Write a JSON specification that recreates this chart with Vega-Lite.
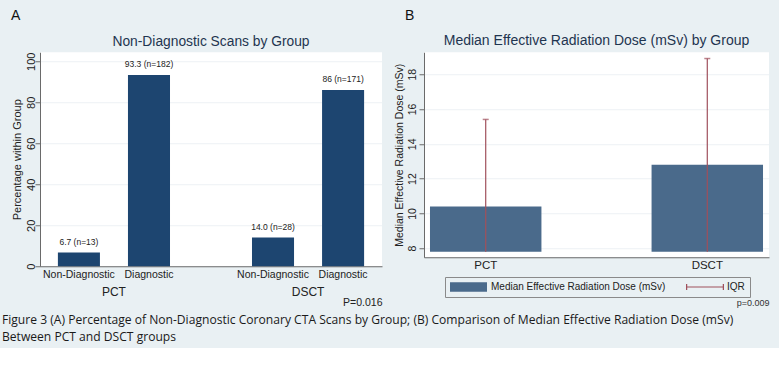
{
  "$schema": "https://vega.github.io/schema/vega-lite/v6.json",
  "background": "#E9F0F3",
  "padding": {"left": 2, "top": 9, "right": 10, "bottom": 5},
  "title": {
    "text": ["Figure 3 (A) Percentage of Non-Diagnostic Coronary CTA Scans by Group; (B) Comparison of Median Effective Radiation Dose (mSv)", "Between PCT and DSCT groups"],
    "orient": "bottom", "anchor": "start", "font": "Open Sans", "fontSize": 12.1, "fontWeight": "normal",
    "color": "#1a1a1a", "lineHeight": 17, "offset": 6, "dx": -9
  },
  "spacing": 12,
  "center": true,
  "hconcat": [
    {
      "title": {"text": "A", "anchor": "start", "fontSize": 14, "fontWeight": "normal", "color": "#111", "offset": 12},
      "vconcat": [
        {
          "width": 342, "height": 214,
          "title": {"text": "Non-Diagnostic Scans by Group", "fontSize": 13.8, "fontWeight": "normal", "color": "#1F3550", "anchor": "middle", "offset": 3},
          "data": {"values": [
            {"group": "PCT", "category": "Non-Diagnostic", "pct": 6.7, "label": "6.7 (n=13)"},
            {"group": "PCT", "category": "Diagnostic", "pct": 93.3, "label": "93.3 (n=182)"},
            {"group": "DSCT", "category": "Non-Diagnostic", "pct": 14.0, "label": "14.0 (n=28)"},
            {"group": "DSCT", "category": "Diagnostic", "pct": 86, "label": "86 (n=171)"}
          ]},
          "encoding": {
            "x": {"field": "group", "type": "nominal", "sort": ["PCT", "DSCT"],
              "scale": {"paddingInner": 0.278, "paddingOuter": 0.02},
              "axis": {"title": "P=0.016", "titleAnchor": "end", "titleFontSize": 10.5, "titlePadding": 0, "titleColor": "#222",
                "labelAngle": 0, "labelFontSize": 12, "labelPadding": 20, "ticks": false, "domainColor": "#6A6A6A"}},
            "xOffset": {"field": "category", "type": "nominal", "sort": ["Non-Diagnostic", "Diagnostic"],
              "scale": {"paddingInner": 0.4, "paddingOuter": 0.2}}
          },
          "layer": [
            {"mark": {"type": "bar", "color": "#1D4570"},
             "encoding": {"y": {"field": "pct", "type": "quantitative", "scale": {"domain": [0, 104.4], "nice": false},
               "axis": {"title": "Percentage within Group", "titleFontSize": 11, "titlePadding": 3, "values": [0, 20, 40, 60, 80, 100],
                 "labelAngle": -90, "labelFontSize": 11, "labelPadding": -1, "tickSize": 5, "grid": true}}}},
            {"mark": {"type": "text", "dy": -6, "fontSize": 8.5, "color": "#222", "baseline": "bottom"},
             "encoding": {"y": {"field": "pct", "type": "quantitative"}, "text": {"field": "label"}}},
            {"mark": {"type": "text", "baseline": "top", "dy": 4, "fontSize": 10.5, "color": "#222"},
             "encoding": {"y": {"datum": 0}, "text": {"field": "category"}}}
          ]
        }
      ]
    },
    {
      "title": {"text": "B", "anchor": "start", "fontSize": 14, "fontWeight": "normal", "color": "#111", "offset": 11, "dx": 11},
      "vconcat": [
        {
          "width": 345, "height": 205,
          "title": {"text": "Median Effective Radiation Dose (mSv) by Group", "fontSize": 14, "fontWeight": "normal", "color": "#1F3550", "anchor": "middle", "offset": 4},
          "data": {"values": [
            {"group": "PCT", "median": 10.4, "base": 7.8, "upper": 15.4, "series": "Median Effective Radiation Dose (mSv)"},
            {"group": "DSCT", "median": 12.8, "base": 7.8, "upper": 18.9, "series": "Median Effective Radiation Dose (mSv)"}
          ]},
          "encoding": {
            "x": {"field": "group", "type": "nominal", "sort": ["PCT", "DSCT"],
              "scale": {"paddingInner": 0.497, "paddingOuter": 0.027},
              "axis": {"title": "p=0.009", "titleAnchor": "end", "titleFontSize": 9, "titleColor": "#333", "titlePadding": 28,
                "labelAngle": 0, "labelFontSize": 11.5, "labelPadding": 2, "ticks": false, "domainColor": "#6A6A6A"}}
          },
          "layer": [
            {"mark": {"type": "bar"},
             "encoding": {
               "y": {"field": "median", "type": "quantitative", "scale": {"domain": [7.48, 19.26], "nice": false, "zero": false},
                 "axis": {"title": "Median Effective Radiation Dose (mSv)", "titleFontSize": 10.5, "titlePadding": 3, "values": [8, 10, 12, 14, 16, 18],
                   "labelAngle": -90, "labelFontSize": 10.5, "labelPadding": 2, "tickSize": 5, "grid": true}},
               "y2": {"field": "base"},
               "color": {"field": "series", "type": "nominal",
                 "scale": {"domain": ["Median Effective Radiation Dose (mSv)", "IQR"], "range": ["#4A6A8B", "#A0505C"]},
                 "legend": {"orient": "none", "legendX": 405, "legendY": 225, "direction": "horizontal", "title": null, "strokeColor": "#8A8A8A", "padding": 5,
                   "labelFontSize": 10, "labelColor": "#222", "labelLimit": 400, "symbolSize": 100, "labelOffset": 31, "columnPadding": 20,
                   "encode": {"symbols": {"update": {
                     "shape": {"signal": "datum.value === 'IQR' ? 'M-1,-0.12H6.6V0.12H-1Z M-1,-0.6H-0.75V0.6H-1Z M6.35,-0.6H6.6V0.6H6.35Z' : 'M-1,-0.95H6.4V0.95H-1Z'"},
                     "strokeWidth": {"value": 0}, "opacity": {"value": 1}
                   }}}}
               }
             }},
            {"mark": {"type": "rule", "color": "#A0505C", "strokeWidth": 1.2},
             "encoding": {"y": {"field": "base", "type": "quantitative"}, "y2": {"field": "upper"}}},
            {"mark": {"type": "tick", "color": "#A0505C", "size": 6, "thickness": 1.5},
             "encoding": {"y": {"field": "upper", "type": "quantitative"}}}
          ]
        }
      ]
    }
  ],
  "config": {
    "font": "Liberation Sans",
    "view": {"stroke": null, "fill": "white"},
    "axis": {"gridColor": "#EDF1F4", "domainColor": "#6A6A6A", "tickColor": "#6A6A6A", "labelColor": "#222", "titleColor": "#222", "titleFontWeight": "normal"},
    "concat": {"spacing": 0}
  }
}
